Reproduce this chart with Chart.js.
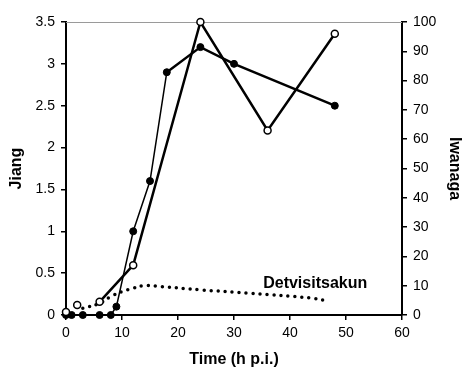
<!DOCTYPE html>
<html>
<head>
<meta charset="utf-8">
<script src="https://cdn.jsdelivr.net/npm/chart.js@4.4.0/dist/chart.umd.min.js"></script>
<style>
html,body{margin:0;padding:0;background:#fff;}
#wrap{width:462px;height:369px;position:relative;}
</style>
</head>
<body>
<div id="wrap"><canvas id="c" width="462" height="369"></canvas></div>
<script>
// ---- data ----
const jiangHours = [0, 1, 3, 6, 8, 9, 12, 15, 18, 24, 30, 48];
const jiangValues = [0, 0, 0, 0, 0, 0.1, 1.0, 1.6, 2.9, 3.2, 3.0, 2.5];
const iwanagaHours = [0, 2, 6, 12, 24, 36, 48];
const iwanagaValues = [1, 3.4, 4.5, 17, 100, 63, 96];
const detHours = [3, 6, 8, 10, 12, 14, 17, 24, 33, 44, 47];
const detValues = [0.08, 0.14, 0.22, 0.28, 0.32, 0.35, 0.34, 0.30, 0.26, 0.20, 0.16];
const detLabel = 'Detvisitsakun';
const detLabelPos = [44.5, 0.37];
const xTitle = 'Time (h p.i.)';
const yLeftTitle = 'Jiang';
const yRightTitle = 'Iwanaga';

const pts = (xs, ys) => xs.map((x, i) => ({x: x, y: ys[i]}));

const tickFont = {family: "'Liberation Sans', Arial, sans-serif", size: 14};
const titleFont = {family: "'Liberation Sans', Arial, sans-serif", size: 16, weight: 'bold'};

const extras = {
  id: 'extras',
  beforeDatasetsDraw(chart) {
    const {ctx, chartArea: a} = chart;
    ctx.save();
    ctx.strokeStyle = '#9a9a9a';
    ctx.lineWidth = 1;
    ctx.beginPath();
    ctx.moveTo(a.left, a.top + 0.5);
    ctx.lineTo(a.right, a.top + 0.5);
    ctx.stroke();
    ctx.restore();
  },
  afterDatasetsDraw(chart) {
    const {ctx, scales} = chart;
    ctx.save();
    ctx.fillStyle = '#000';
    ctx.font = "bold 16px 'Liberation Sans', Arial, sans-serif";
    ctx.textAlign = 'center';
    ctx.textBaseline = 'middle';
    ctx.fillText(detLabel, scales.x.getPixelForValue(detLabelPos[0]), scales.y.getPixelForValue(detLabelPos[1]));
    ctx.restore();
  }
};

new Chart(document.getElementById('c'), {
  type: 'line',
  data: {
    datasets: [
      {
        label: yRightTitle,
        data: pts(iwanagaHours, iwanagaValues),
        yAxisID: 'y2',
        borderColor: '#000',
        borderWidth: 2.5,
        pointRadius: 3.5,
        pointBackgroundColor: '#fff',
        pointBorderColor: '#000',
        pointBorderWidth: 1.5,
        tension: 0,
        clip: false,
        order: 1,
        segment: {
          borderColor: c => c.p0.parsed.x < 6 ? 'rgba(0,0,0,0)' : '#000'
        }
      },
      {
        label: yLeftTitle,
        data: pts(jiangHours, jiangValues),
        yAxisID: 'y',
        borderColor: '#000',
        borderWidth: 1.5,
        pointRadius: 3.5,
        pointBackgroundColor: '#000',
        pointBorderColor: '#000',
        pointBorderWidth: 1,
        tension: 0,
        clip: false,
        order: 2,
        segment: {
          borderWidth: c => c.p0.parsed.x >= 18 ? 2.5 : 1.5
        }
      },
      {
        label: detLabel,
        data: pts(detHours, detValues),
        yAxisID: 'y',
        borderColor: '#000',
        borderWidth: 3.5,
        borderDash: [0, 7],
        borderCapStyle: 'round',
        pointRadius: 0,
        tension: 0.4,
        clip: false,
        order: 3
      }
    ]
  },
  options: {
    responsive: false,
    animation: false,
    layout: {padding: {top: 22, left: 0, right: 0, bottom: 0}},
    plugins: {legend: {display: false}, tooltip: {enabled: false}},
    scales: {
      x: {
        type: 'linear',
        min: 0, max: 60,
        ticks: {stepSize: 10, color: '#000', font: tickFont, padding: 5},
        grid: {drawOnChartArea: false, drawTicks: true, tickLength: 5, color: '#000', lineWidth: 1.5},
        border: {display: true, color: '#000', width: 2},
        title: {display: true, text: xTitle, color: '#000', font: titleFont, padding: {top: 0, bottom: 0}},
        afterFit: s => { s.height = 54; }
      },
      y: {
        position: 'left',
        min: 0, max: 3.5,
        ticks: {stepSize: 0.5, color: '#000', font: tickFont, padding: 6, callback: v => String(v)},
        grid: {drawOnChartArea: false, drawTicks: true, tickLength: 5, color: '#000', lineWidth: 1.5},
        border: {display: true, color: '#000', width: 2},
        title: {display: true, text: yLeftTitle, color: '#000', font: titleFont, padding: {top: 7, bottom: 0}},
        afterFit: s => { s.width = 66; }
      },
      y2: {
        position: 'right',
        min: 0, max: 100,
        ticks: {stepSize: 10, color: '#000', font: tickFont, padding: 6},
        grid: {drawOnChartArea: false, drawTicks: true, tickLength: 5, color: '#000', lineWidth: 1.5},
        border: {display: true, color: '#000', width: 2},
        title: {display: true, text: yRightTitle, color: '#000', font: titleFont, padding: {top: -2, bottom: 0}},
        afterFit: s => { s.width = 60; }
      }
    }
  },
  plugins: [extras]
});
</script>
</body>
</html>
